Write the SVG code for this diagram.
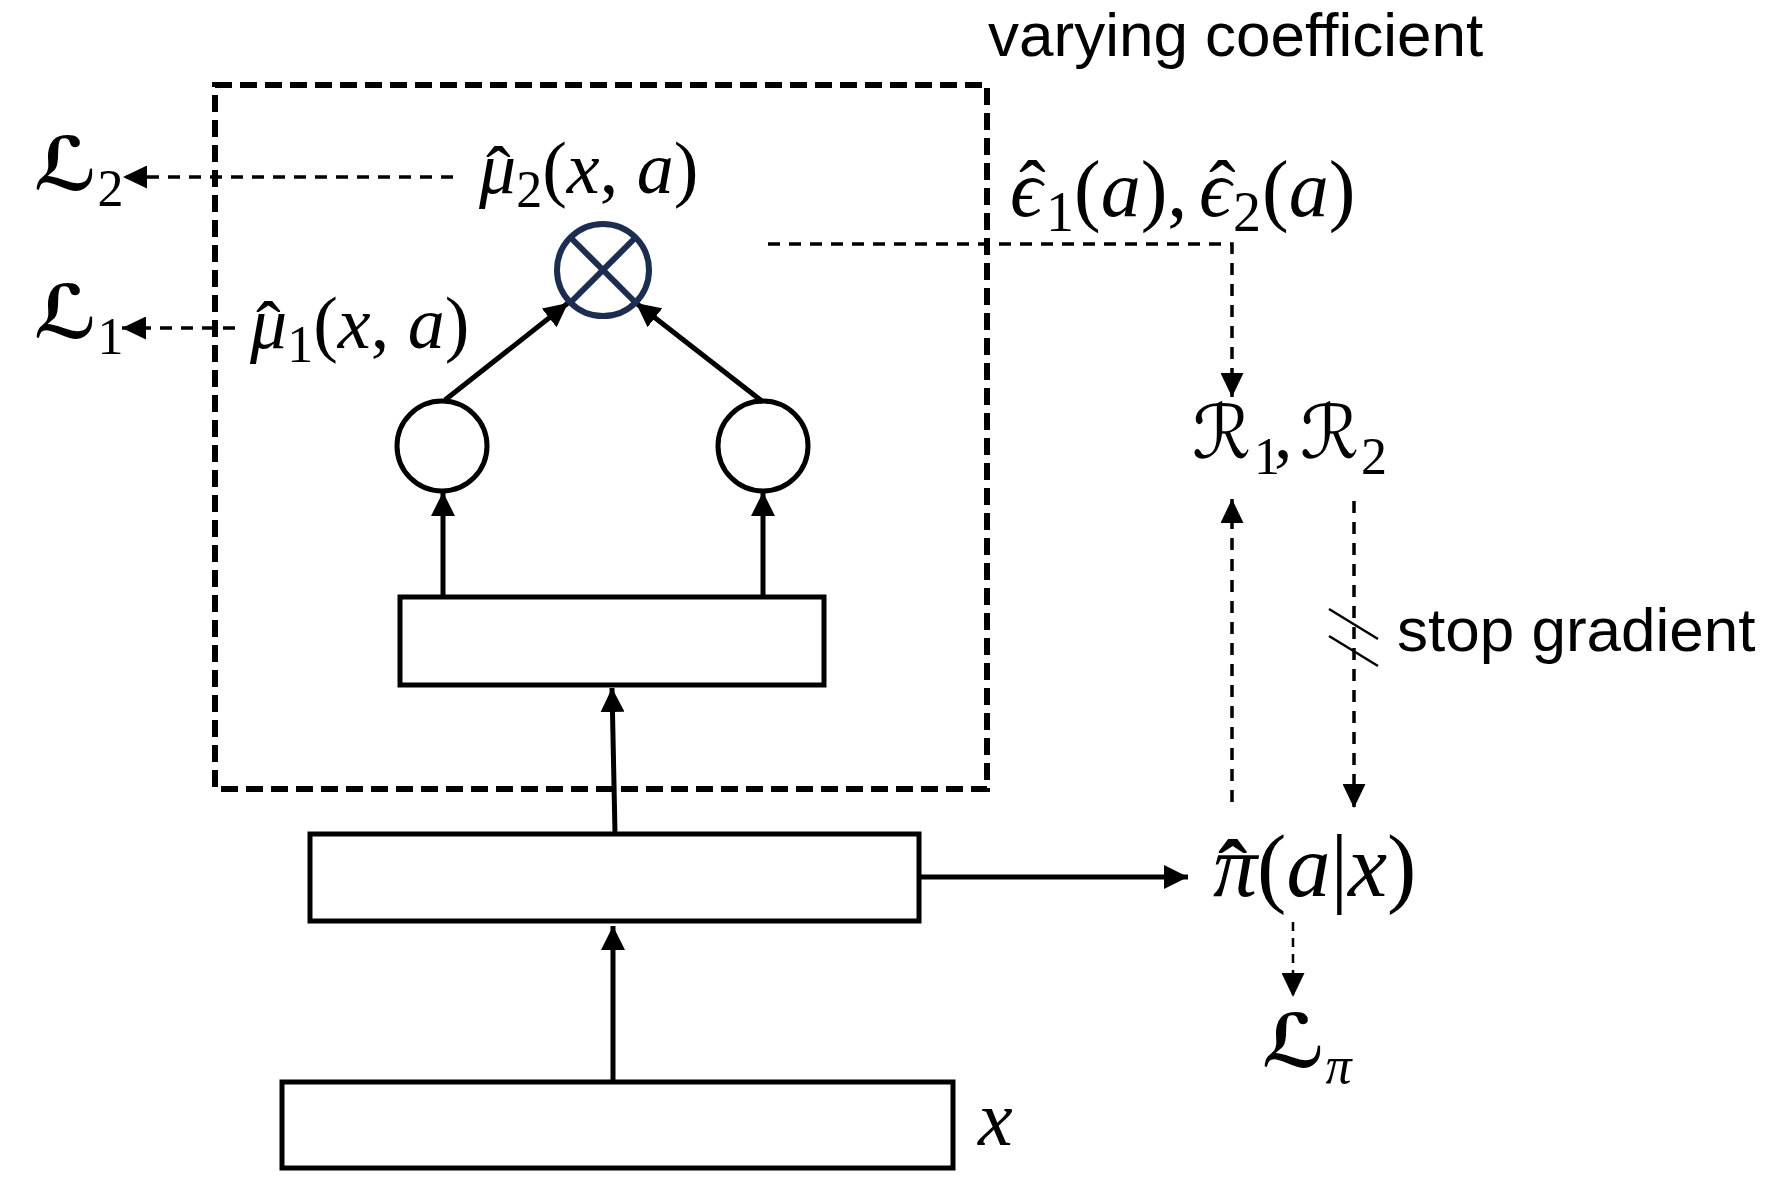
<svg xmlns="http://www.w3.org/2000/svg" width="1768" height="1178" viewBox="0 0 1768 1178">
<style>
.box{fill:none;stroke:#000;stroke-width:5}
.ln{fill:none;stroke:#000;stroke-width:5}
.dl{fill:none;stroke:#000;stroke-width:3.5;stroke-dasharray:12 9}
.dthin{fill:none;stroke:#000;stroke-width:2.5;stroke-dasharray:9 7}
.frame{fill:none;stroke:#000;stroke-width:6;stroke-dasharray:17 8}
.math{font-family:"Liberation Serif","Times New Roman",serif;font-style:italic;font-size:74px;fill:#000}
.rm{font-style:normal}
.sub{font-size:52px}
.cal{font-family:"DejaVu Serif","DejaVu Sans",serif;font-style:normal;font-weight:bold}
.calr{font-family:"DejaVu Serif","DejaVu Sans",serif;font-style:normal}
.lbl{font-family:"Liberation Sans",Arial,sans-serif;font-size:62px;fill:#000}
</style>
<defs>
<marker id="ah" viewBox="0 0 10 10" refX="10" refY="5" markerUnits="userSpaceOnUse" markerWidth="24" markerHeight="24" preserveAspectRatio="none" orient="auto">
<path d="M0,0 L10,5 L0,10 z" fill="#000"/>
</marker>
<marker id="ahs" viewBox="0 0 10 10" refX="10" refY="5" markerUnits="userSpaceOnUse" markerWidth="24" markerHeight="23" preserveAspectRatio="none" orient="auto">
<path d="M0,0 L10,5 L0,10 z" fill="#000"/>
</marker>
</defs>

<g id="frame">
<rect class="frame" x="215" y="85" width="772" height="704"/>
<text class="lbl" x="988" y="56">varying coefficient</text>
</g>

<g id="connectors">
<line class="ln" x1="613" y1="1080" x2="613" y2="926" marker-end="url(#ah)"/>
<line class="ln" x1="615" y1="833" x2="612" y2="688" marker-end="url(#ah)"/>
<line class="ln" x1="920" y1="877" x2="1188" y2="877" marker-end="url(#ah)"/>
<line class="ln" x1="443" y1="595" x2="443" y2="492" marker-end="url(#ah)"/>
<line class="ln" x1="763" y1="595" x2="763" y2="492" marker-end="url(#ah)"/>
<line class="ln" x1="445" y1="400" x2="568" y2="303" marker-end="url(#ah)"/>
<line class="ln" x1="763" y1="402" x2="636" y2="303" marker-end="url(#ah)"/>
<line class="dl" x1="453" y1="177" x2="123" y2="177" marker-end="url(#ahs)"/>
<line class="dl" x1="235" y1="328" x2="122" y2="328" marker-end="url(#ahs)"/>
<path class="dl" d="M768,244 H1232 V397" marker-end="url(#ahs)"/>
<line class="dl" x1="1232" y1="802" x2="1232" y2="499" marker-end="url(#ahs)"/>
<line class="dl" x1="1354" y1="501" x2="1354" y2="808" marker-end="url(#ahs)"/>
<line class="dthin" x1="1293" y1="922" x2="1293" y2="997" marker-end="url(#ahs)"/>
<line stroke="#000" stroke-width="2.5" x1="1329" y1="609" x2="1378" y2="639"/>
<line stroke="#000" stroke-width="2.5" x1="1329" y1="636" x2="1378" y2="666"/>
<text class="lbl" x="1397" y="651">stop gradient</text>
</g>

<g id="input">
<rect class="box" x="282" y="1082" width="671" height="86"/>
<text class="math" x="978" y="1145" style="font-size:78px">x</text>
</g>

<g id="shared">
<rect class="box" x="310" y="834" width="609" height="87"/>
</g>

<g id="head">
<rect class="box" x="400" y="597" width="424" height="88"/>
</g>

<g id="unit1">
<circle class="box" cx="442" cy="446" r="45"/>
</g>
<g id="unit2">
<circle class="box" cx="763" cy="446" r="45"/>
</g>

<g id="product">
<circle cx="603" cy="270" r="46" fill="none" stroke="#1c2e4f" stroke-width="6"/>
<line x1="570.5" y1="237.5" x2="635.5" y2="302.5" stroke="#1c2e4f" stroke-width="6"/>
<line x1="635.5" y1="237.5" x2="570.5" y2="302.5" stroke="#1c2e4f" stroke-width="6"/>
</g>

<g id="mu2">
<text class="math" y="193"><tspan class="rm" x="486" dy="5">ˆ</tspan><tspan x="479" dy="-5">μ</tspan><tspan class="sub rm" dy="14">2</tspan><tspan class="rm" dy="-14">(</tspan>x<tspan class="rm">, </tspan>a<tspan class="rm">)</tspan></text>
</g>
<g id="mu1">
<text class="math" y="348"><tspan class="rm" x="256" dy="5">ˆ</tspan><tspan x="250" dy="-5">μ</tspan><tspan class="sub rm" dy="14">1</tspan><tspan class="rm" dy="-14">(</tspan>x<tspan class="rm">, </tspan>a<tspan class="rm">)</tspan></text>
</g>
<g id="L2">
<text class="math" x="34" y="190"><tspan class="cal">ℒ</tspan><tspan class="sub rm" dy="16">2</tspan></text>
</g>
<g id="L1">
<text class="math" x="34" y="338"><tspan class="cal">ℒ</tspan><tspan class="sub rm" dy="16">1</tspan></text>
</g>
<g id="eps">
<text class="math" y="216" style="font-size:80px"><tspan class="rm" x="1019">ˆ</tspan><tspan x="1010">ϵ</tspan><tspan class="rm" x="1046" dy="15" style="font-size:56px">1</tspan><tspan class="rm" x="1074" dy="-15">(</tspan>a<tspan class="rm">),</tspan><tspan class="rm" x="1209">ˆ</tspan><tspan x="1199">ϵ</tspan><tspan class="rm" x="1233" dy="15" style="font-size:56px">2</tspan><tspan class="rm" x="1262" dy="-15">(</tspan>a<tspan class="rm">)</tspan></text>
</g>
<g id="R">
<text class="math" y="458"><tspan class="calr" x="1192">ℛ</tspan><tspan class="sub rm" x="1254" dy="16">1</tspan><tspan class="rm" x="1274" dy="-16">,</tspan><tspan class="calr" x="1300">ℛ</tspan><tspan class="sub rm" x="1361" dy="16">2</tspan></text>
</g>
<g id="pi">
<text class="math" y="896" style="font-size:88px"><tspan class="rm" x="1218" dy="6" font-weight="bold">ˆ</tspan><tspan x="1213" dy="-6">π</tspan><tspan class="rm">(</tspan>a<tspan class="rm">|</tspan>x<tspan class="rm">)</tspan></text>
</g>
<g id="Lpi">
<text class="math" x="1262" y="1067"><tspan class="cal">ℒ</tspan><tspan class="sub" dy="16">π</tspan></text>
</g>
</svg>
